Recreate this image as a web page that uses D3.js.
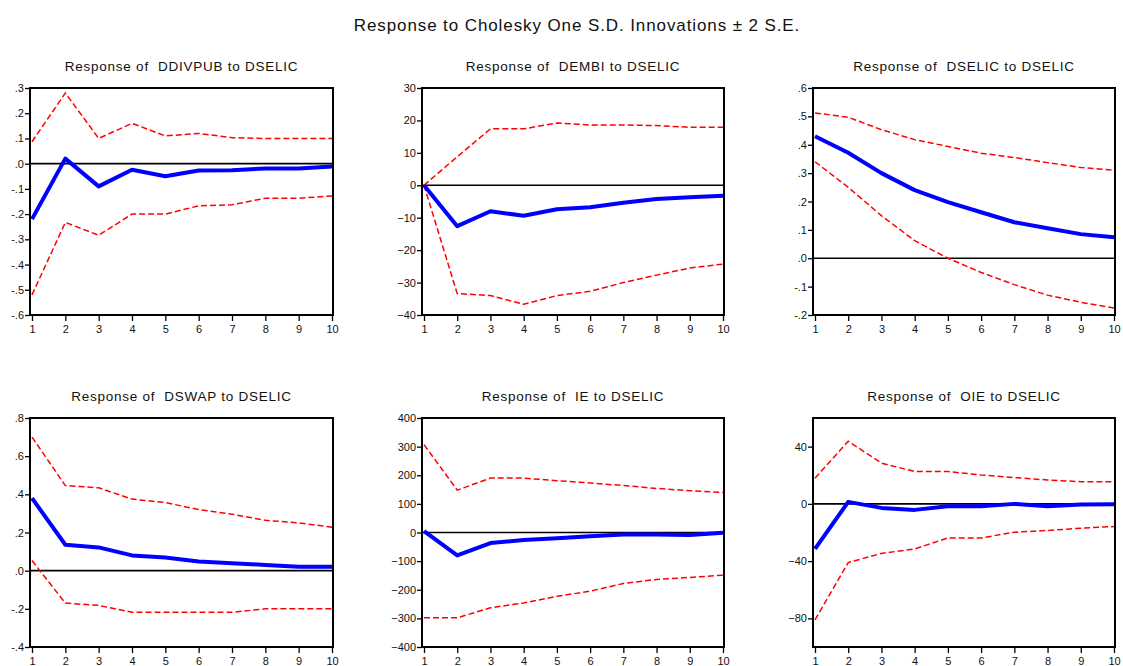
<!DOCTYPE html>
<html><head><meta charset="utf-8">
<script src="https://cdn.jsdelivr.net/npm/d3@7"></script>
<style>
body{margin:0;background:#fff}
svg{display:block}
text{font-family:"Liberation Sans",Arial,sans-serif;fill:#111}
</style>
</head><body><svg id="c" width="1123" height="666"></svg>
<script>
// ---------- data ----------
const periods = [1,2,3,4,5,6,7,8,9,10];
const mainTitle = "Response to Cholesky One S.D. Innovations \u00b1 2 S.E.";
const panelTitles = [
  "Response of  DDIVPUB to DSELIC",
  "Response of  DEMBI to DSELIC",
  "Response of  DSELIC to DSELIC",
  "Response of  DSWAP to DSELIC",
  "Response of  IE to DSELIC",
  "Response of  OIE to DSELIC"
];
const ddivpubResp  = [-0.22, 0.02, -0.09, -0.024, -0.05, -0.027, -0.026, -0.019, -0.019, -0.011];
const ddivpubUpper = [0.087, 0.28, 0.10, 0.16, 0.11, 0.12, 0.103, 0.10, 0.10, 0.10];
const ddivpubLower = [-0.52, -0.233, -0.284, -0.20, -0.20, -0.167, -0.163, -0.137, -0.137, -0.128];

const dembiResp  = [0, -12.6, -8.0, -9.4, -7.4, -6.8, -5.4, -4.2, -3.7, -3.2];
const dembiUpper = [0, 8.8, 17.4, 17.4, 19.2, 18.6, 18.6, 18.4, 17.9, 17.9];
const dembiLower = [0, -33.4, -34.0, -36.7, -34.0, -32.7, -30.0, -27.7, -25.5, -24.3];

const dselicResp  = [0.43, 0.372, 0.30, 0.24, 0.198, 0.162, 0.127, 0.106, 0.085, 0.074];
const dselicUpper = [0.512, 0.497, 0.453, 0.418, 0.394, 0.37, 0.355, 0.337, 0.32, 0.31];
const dselicLower = [0.34, 0.25, 0.15, 0.062, 0.0, -0.05, -0.093, -0.13, -0.155, -0.175];

const dswapResp  = [0.38, 0.136, 0.122, 0.08, 0.069, 0.048, 0.039, 0.03, 0.02, 0.02];
const dswapUpper = [0.70, 0.446, 0.434, 0.375, 0.357, 0.32, 0.296, 0.264, 0.25, 0.228];
const dswapLower = [0.053, -0.17, -0.182, -0.218, -0.218, -0.218, -0.218, -0.20, -0.20, -0.20];

const ieResp  = [5, -80, -37, -26, -20, -13, -7, -7, -9, -1];
const ieUpper = [307, 148, 190, 190, 181, 173, 164, 154, 146, 140];
const ieLower = [-298, -298, -263, -246, -223, -205, -178, -164, -157, -149];

const oieResp  = [-31.5, 1.4, -2.8, -4.2, -1.6, -1.6, 0, -1.6, -0.5, -0.2];
const oieUpper = [17.9, 43.8, 28.5, 22.6, 22.6, 20.2, 18.4, 16.7, 15.5, 15.5];
const oieLower = [-81, -41, -34.6, -31.5, -23.8, -23.8, -19.8, -18.6, -17, -15.8];

const yDomains = [[-0.6,0.3],[-40,30],[-0.2,0.6],[-0.4,0.8],[-400,400],[-100,60]];
const yTicks = [
  [0.3,0.2,0.1,0,-0.1,-0.2,-0.3,-0.4,-0.5,-0.6],
  [30,20,10,0,-10,-20,-30,-40],
  [0.6,0.5,0.4,0.3,0.2,0.1,0,-0.1,-0.2],
  [0.8,0.6,0.4,0.2,0,-0.2,-0.4],
  [400,300,200,100,0,-100,-200,-300,-400],
  [40,0,-40,-80]
];
const decimalPanels = [true,false,true,true,false,false];

const series = [
  [ddivpubResp, ddivpubUpper, ddivpubLower],
  [dembiResp, dembiUpper, dembiLower],
  [dselicResp, dselicUpper, dselicLower],
  [dswapResp, dswapUpper, dswapLower],
  [ieResp, ieUpper, ieLower],
  [oieResp, oieUpper, oieLower]
];

// ---------- layout ----------
const frames = [
  {l:30, r:333, t:88, b:315},
  {l:422, r:724, t:88, b:315},
  {l:813, r:1115, t:88, b:315},
  {l:30, r:333, t:418, b:647},
  {l:422, r:724, t:418, b:647},
  {l:813, r:1115, t:418, b:647}
];

const svg = d3.select("#c");
svg.append("text").attr("x", 577).attr("y", 31).attr("text-anchor","middle")
  .style("font-size","17px").style("letter-spacing","0.9px").text(mainTitle);

function fmtDec(v){
  if (v === 0) return ".0";
  const s = d3.format(".1f")(Math.abs(v)).replace(/^0/,"");
  return (v<0?"-":"") + s;
}

frames.forEach((f,i)=>{
  const g = svg.append("g");
  const x = d3.scaleLinear().domain([1,10]).range([f.l+2, f.r-1]);
  const y = d3.scaleLinear().domain(yDomains[i]).range([f.b, f.t]);

  g.append("text").attr("x",(f.l+f.r)/2).attr("y", f.t-17).attr("text-anchor","middle")
    .style("font-size","13.5px").style("letter-spacing","0.75px").style("white-space","pre")
    .attr("xml:space","preserve").text(panelTitles[i]);

  // y axis
  const ya = d3.axisLeft(y).tickValues(yTicks[i]).tickSize(5).tickPadding(1)
    .tickFormat(decimalPanels[i] ? fmtDec : d3.format("d"));
  const yg = g.append("g").attr("transform",`translate(${f.l},0)`).call(ya);
  yg.select(".domain").remove();
  yg.selectAll("line").attr("stroke","#000").attr("stroke-width",1.3);
  yg.selectAll("text").style("font-size","11px").style("font-family",'"Liberation Sans",Arial,sans-serif').attr("fill","#111");

  // x axis
  const xa = d3.axisBottom(x).tickValues(periods).tickSize(6).tickPadding(4).tickFormat(d3.format("d"));
  const xg = g.append("g").attr("transform",`translate(0,${f.b})`).call(xa);
  xg.select(".domain").remove();
  xg.selectAll("line").attr("stroke","#000").attr("stroke-width",1.3);
  xg.selectAll("text").style("font-size","11px").style("font-family",'"Liberation Sans",Arial,sans-serif').attr("fill","#111");

  // zero line
  g.append("line").attr("x1",f.l).attr("x2",f.r).attr("y1",y(0)).attr("y2",y(0))
    .attr("stroke","#000").attr("stroke-width",1.6);

  const line = d3.line().x((d,k)=>x(periods[k])).y(d=>y(d));
  const [resp, up, lo] = series[i];
  [up, lo].forEach(s=>{
    g.append("path").attr("d", line(s)).attr("fill","none").attr("stroke","#ff0000")
      .attr("stroke-width",1.5).attr("stroke-dasharray","6,3");
  });
  g.append("path").attr("d", line(resp)).attr("fill","none").attr("stroke","#0000ff")
    .attr("stroke-width",4).attr("stroke-linejoin","round");

  // frame
  g.append("rect").attr("x",f.l).attr("y",f.t).attr("width",f.r-f.l).attr("height",f.b-f.t)
    .attr("fill","none").attr("stroke","#000").attr("stroke-width",2);
});
</script>
</body></html>
